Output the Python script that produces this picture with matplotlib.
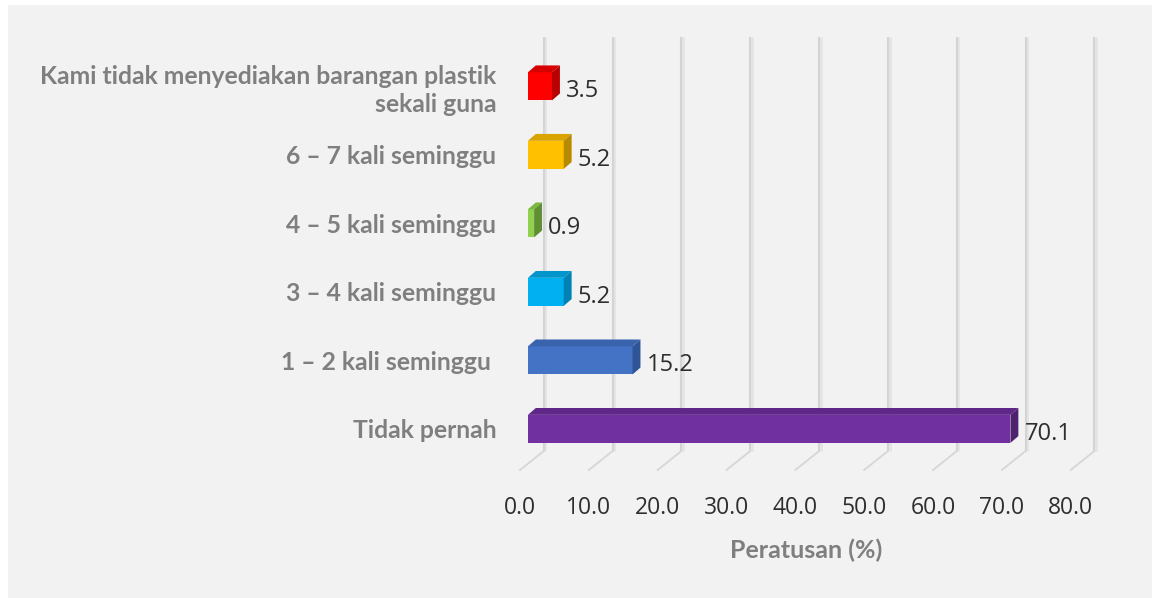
import matplotlib
matplotlib.use("Agg")
import matplotlib.pyplot as plt
from matplotlib.patches import Polygon, Rectangle

# ---- data ----
categories = ["Tidak pernah", "1 – 2 kali seminggu ", "3 – 4 kali seminggu",
              "4 – 5 kali seminggu", "6 – 7 kali seminggu",
              "Kami tidak menyediakan barangan plastik\nsekali guna"]
values = [70.1, 15.2, 5.2, 0.9, 5.2, 3.5]
front_colors = ["#7030a0", "#4472c4", "#00b0f0", "#92d050", "#ffc000", "#ff0000"]
side_colors = ["#4f2270", "#2f5597", "#0083b4", "#5f8f32", "#b88a00", "#b80000"]
top_colors = ["#5e2788", "#3a63ad", "#0096cc", "#7ab83f", "#d9a300", "#d60000"]
xticks = [0, 10, 20, 30, 40, 50, 60, 70, 80]
xlabel = "Peratusan (%)"

W, H = 1152, 598
fig = plt.figure(figsize=(W / 100, H / 100), dpi=100, facecolor="white")
fig.patches.append(Rectangle((8 / W, 0), 1 - 8 / W, 1 - 5 / H, transform=fig.transFigure,
                             facecolor="#f2f2f2", edgecolor="none", zorder=-10))

px_per_unit = 6.98
xmax = 82
left = 520 / W
width = xmax * px_per_unit / W
bottom = 1 - 470 / H
top = 1 - 37 / H
ax = fig.add_axes([left, bottom, width, top - bottom])
ax.set_facecolor("none")
ax.set_xlim(0, xmax)
ax.set_ylim(-0.6, 5.72)
for s in ax.spines.values():
    s.set_visible(False)

# 3D geometry (in data units)
floor_front_dx = -1.15
floor_back_dx = 2.3
floor_back_y = -0.323
floor_front_y = -0.6
bar_h = 0.41
depth_x = 1.15
depth_y = 0.10

# gridlines (back wall + floor diagonals)
for v in xticks:
    xb = v + floor_back_dx
    ax.plot([xb + 0.25, xb + 0.25], [floor_back_y, 5.72], color="#e4e4e4", lw=2.0, zorder=1,
            solid_capstyle="butt", clip_on=False)
    ax.plot([xb, xb], [floor_back_y, 5.72], color="#d4d4d4", lw=1.5, zorder=1,
            solid_capstyle="butt", clip_on=False)
    ax.plot([v + floor_front_dx, xb], [floor_front_y, floor_back_y], color="#d6d6d6",
            lw=1.3, zorder=1, clip_on=False)

ys = list(range(len(values)))
ax.barh(ys, values, height=bar_h, color=front_colors, zorder=3, left=0)
for y, v, sc, tc in zip(ys, values, side_colors, top_colors):
    yt = y + bar_h / 2
    yb = y - bar_h / 2
    ax.add_patch(Polygon([(0, yt), (v, yt), (v + depth_x, yt + depth_y), (depth_x, yt + depth_y)],
                         closed=True, facecolor=tc, edgecolor="none", zorder=3))
    ax.add_patch(Polygon([(v, yb), (v + depth_x, yb + depth_y), (v + depth_x, yt + depth_y), (v, yt)],
                         closed=True, facecolor=sc, edgecolor="none", zorder=3))
    ax.text(v + depth_x + 0.9, y - 0.07, f"{v:.1f}", ha="left", va="center",
            fontsize=17, color="#2e2e2e", family="Open Sans", zorder=4)

ax.set_yticks(ys)
ax.set_yticklabels(categories, fontsize=17.8, fontweight="bold", color="#7f7f7f",
                   family="Lato", ha="right", multialignment="right", linespacing=1.25)
ax.tick_params(axis="y", length=0, pad=17)

ax.set_xticks([v + floor_front_dx for v in xticks])
ax.set_xticklabels([f"{v:.1f}" for v in xticks], fontsize=16.5, color="#2e2e2e",
                   family="Open Sans")
ax.tick_params(axis="x", length=0, pad=19)
ax.set_xlabel(xlabel, fontsize=18, fontweight="bold", color="#7f7f7f", family="Lato",
              labelpad=13)

fig.savefig("out.png", dpi=100, facecolor=fig.get_facecolor())
